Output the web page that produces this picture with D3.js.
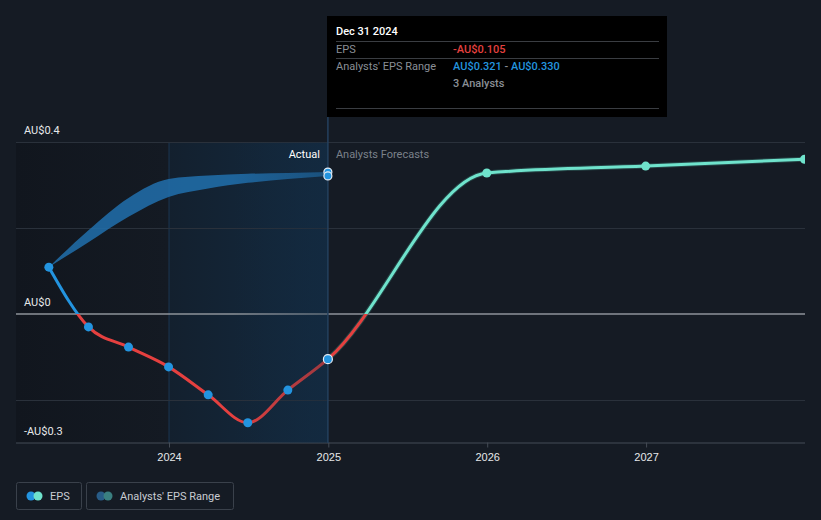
<!DOCTYPE html>
<html><head><meta charset="utf-8">
<script src="https://cdn.jsdelivr.net/npm/d3@7/dist/d3.min.js"></script>
<style>html,body{margin:0;padding:0;background:#151b24;}svg{display:block;font-family:Roboto,"Noto Sans",sans-serif;}</style>
</head><body>
<svg id="c" width="821" height="520"></svg>
<script>
// ---- data ----
const epsDates = ["2023-03-31","2023-06-30","2023-09-30","2023-12-31","2024-03-31","2024-06-30","2024-09-30","2024-12-31"];
const epsValues = [0.109,-0.030,-0.077,-0.123,-0.188,-0.253,-0.177,-0.105];
const forecastDates = ["2024-12-31","2025-12-31","2026-12-31","2027-12-31"];
const forecastValues = [-0.105,0.328,0.344,0.360];
const rangeDates = ["2023-03-31","2023-06-30","2023-09-30","2023-12-31","2024-03-31","2024-06-30","2024-09-30","2024-12-31"];
const rangeLow  = [0.109,0.167,0.226,0.272,0.292,0.305,0.314,0.321];
const rangeHigh = [0.109,0.195,0.270,0.314,0.322,0.326,0.328,0.330];
const xTickYears = [2024,2025,2026,2027];
const yTickValues = [0.4,0,-0.3];
const yTickLabels = ["AU$0.4","AU$0","-AU$0.3"];
const yGridValues = [0.4,0.2,-0.2];

const parse = d3.timeParse("%Y-%m-%d");
const svg = d3.select("#c");
const L = 16, R = 805, T = 142, B = 443;
const x = d3.scaleTime().domain([new Date(2024,0,1), new Date(2028,0,1)]).range([169, 805]);
const y = d3.scaleLinear().domain([-0.3, 0.4]).range([B, T]);

const defs = svg.append("defs");
const lg = defs.append("linearGradient").attr("id","leftg").attr("x1",0).attr("x2",1).attr("y1",0).attr("y2",0);
lg.append("stop").attr("offset",0).attr("stop-color","#11161e");
lg.append("stop").attr("offset",1).attr("stop-color","#141a23");
const hg = defs.append("linearGradient").attr("id","hig").attr("x1",0).attr("x2",1).attr("y1",0).attr("y2",0);
hg.append("stop").attr("offset",0).attr("stop-color","#13202e");
hg.append("stop").attr("offset",1).attr("stop-color","#132a40");

const xNow = x(parse("2024-12-31"));
const x2024 = x(new Date(2024,0,1));
svg.append("rect").attr("x",L).attr("y",T).attr("width",x2024-L).attr("height",B-T).attr("fill","url(#leftg)");
svg.append("rect").attr("x",x2024).attr("y",T).attr("width",xNow-x2024).attr("height",B-T).attr("fill","url(#hig)");
svg.append("line").attr("x1",x2024).attr("x2",x2024).attr("y1",T).attr("y2",B).attr("stroke","#1b3550").attr("stroke-width",1);

// grid
svg.selectAll(".grid").data(yGridValues).join("line")
  .attr("x1",L).attr("x2",R).attr("y1",d=>Math.round(y(d))+0.5).attr("y2",d=>Math.round(y(d))+0.5)
  .attr("stroke","#2a313b").attr("stroke-width",1);

// x axis
const xAxis = d3.axisBottom(x).tickValues(xTickYears.map(v=>new Date(v,0,1))).tickFormat(d3.timeFormat("%Y")).tickSize(5).tickSizeOuter(0);
const gx = svg.append("g").attr("transform",`translate(0,${B-0.5})`).call(xAxis);
gx.select(".domain").attr("d",`M${L},0.5H${R}`).attr("stroke","#454c56");
gx.selectAll(".tick line").attr("stroke","#454c56");
gx.selectAll(".tick text").attr("fill","#e6e8ea").attr("font-size",11).attr("dy","0.95em");

// zero line
svg.append("line").attr("x1",L).attr("x2",R).attr("y1",y(0)).attr("y2",y(0)).attr("stroke","#8e939a").attr("stroke-width",1.5);

// y labels
svg.selectAll(".ylab").data(yTickValues).join("text")
  .attr("x",24).attr("y",d=>y(d)-8).attr("fill","#e6e8ea").attr("font-size",11)
  .text((d,i)=>yTickLabels[i]);

// band
const band = rangeDates.map((d,i)=>({d:parse(d),lo:rangeLow[i],hi:rangeHigh[i]}));
svg.append("path").datum(band)
  .attr("d",d3.area().x(d=>x(d.d)).y0(d=>y(d.lo)).y1(d=>y(d.hi)).curve(d3.curveMonotoneX))
  .attr("fill","#2170ad").attr("fill-opacity",0.85);

// lines
const all = epsDates.map((d,i)=>({d:parse(d),v:epsValues[i]}))
  .concat(forecastDates.slice(1).map((d,i)=>({d:parse(d),v:forecastValues[i+1]})));
const lineGen = d3.line().x(d=>x(d.d)).y(d=>y(d.v)).curve(d3.curveMonotoneX);
const z = y(0);
function grad(id, pos){
  const g = defs.append("linearGradient").attr("id",id).attr("gradientUnits","userSpaceOnUse")
    .attr("x1",0).attr("x2",0).attr("y1",T).attr("y2",B);
  const f = (z-T)/(B-T);
  g.append("stop").attr("offset",f).attr("stop-color",pos);
  g.append("stop").attr("offset",f).attr("stop-color","#e5403f");
}
grad("ga","#2394df"); grad("gf","#6fe3cc");
defs.append("clipPath").attr("id","ca").append("rect").attr("x",0).attr("y",0).attr("width",xNow).attr("height",520);
defs.append("clipPath").attr("id","cf").append("rect").attr("x",xNow).attr("y",0).attr("width",R-xNow).attr("height",520);
defs.append("clipPath").attr("id","cp").append("rect").attr("x",0).attr("y",0).attr("width",R).attr("height",520);

const fc = forecastDates.map((d,i)=>({d:parse(d),v:forecastValues[i]}));
svg.append("path").datum(all).attr("clip-path","url(#cf)").attr("d",lineGen)
  .attr("fill","none").attr("stroke","#2f5f5c").attr("stroke-width",5).attr("stroke-opacity",0.6);

svg.append("path").datum(all).attr("clip-path","url(#ca)").attr("d",lineGen)
  .attr("fill","none").attr("stroke","url(#ga)").attr("stroke-width",3);
svg.append("path").datum(all).attr("clip-path","url(#cf)").attr("d",lineGen)
  .attr("fill","none").attr("stroke","url(#gf)").attr("stroke-width",3);

// highlight overlay tint over line in recent area
const og = defs.append("linearGradient").attr("id","og").attr("x1",0).attr("x2",1).attr("y1",0).attr("y2",0);
og.append("stop").attr("offset",0.4).attr("stop-color","#132a40").attr("stop-opacity",0);
og.append("stop").attr("offset",1).attr("stop-color","#132a40").attr("stop-opacity",0.35);
svg.append("rect").attr("x",x2024).attr("y",T).attr("width",xNow-x2024).attr("height",B-T).attr("fill","url(#og)");

// vertical marker line
svg.append("line").attr("x1",xNow).attr("x2",xNow).attr("y1",117).attr("y2",B).attr("stroke","#24415e").attr("stroke-width",1.5);

// dots
svg.selectAll(".ad").data(all.slice(0,epsDates.length)).join("circle")
  .attr("cx",d=>x(d.d)).attr("cy",d=>y(d.v)).attr("r",4.5).attr("fill","#2394df")
  .attr("stroke",(d,i)=>i===epsDates.length-1?"#e8eef5":"none").attr("stroke-width",1.2);
svg.append("g").attr("clip-path","url(#cp)").selectAll(".fd").data(fc.slice(1)).join("circle")
  .attr("cx",d=>x(d.d)).attr("cy",d=>y(d.v)).attr("r",4.5).attr("fill","#6fe3cc");
const lastBand = band[band.length-1];
svg.selectAll(".bd").data([lastBand.hi,lastBand.lo]).join("circle")
  .attr("cx",x(lastBand.d)).attr("cy",d=>y(d)).attr("r",4).attr("fill","#2394df")
  .attr("stroke","#e8eef5").attr("stroke-width",1.2);

// Actual / forecast labels
svg.append("text").attr("x",xNow-8).attr("y",158).attr("text-anchor","end").attr("fill","#ffffff").attr("font-size",11).text("Actual");
svg.append("text").attr("x",xNow+8).attr("y",158).attr("fill","#7b818a").attr("font-size",11).text("Analysts Forecasts");

// tooltip
const tt = svg.append("g");
tt.append("rect").attr("x",327).attr("y",16).attr("width",340).attr("height",101).attr("fill","#000");
[41.5,58.5,108.5].forEach(v=>tt.append("line").attr("x1",336).attr("x2",659).attr("y1",v).attr("y2",v).attr("stroke","#3a3d42"));
tt.append("text").attr("x",336).attr("y",35).attr("fill","#fff").attr("font-size",11).attr("font-weight",500).text("Dec 31 2024");
tt.append("text").attr("x",336).attr("y",53).attr("fill","#8a8f96").attr("font-size",11).text("EPS");
tt.append("text").attr("x",453).attr("y",53).attr("fill","#e5403f").attr("font-size",11).attr("font-weight",500).text("-AU$0.105");
tt.append("text").attr("x",336).attr("y",70).attr("fill","#8a8f96").attr("font-size",11).text("Analysts' EPS Range");
const rt = tt.append("text").attr("x",453).attr("y",70).attr("font-size",11).attr("font-weight",500);
rt.append("tspan").attr("fill","#2394df").text("AU$0.321");
rt.append("tspan").attr("fill","#8a8f96").text(" - ");
rt.append("tspan").attr("fill","#2394df").text("AU$0.330");
tt.append("text").attr("x",453).attr("y",87).attr("fill","#8a8f96").attr("font-size",11).attr("font-weight",500).text("3 Analysts");

// legend
const lgd = svg.append("g");
lgd.append("rect").attr("x",16.5).attr("y",482.5).attr("width",65).attr("height",27).attr("rx",2).attr("fill","none").attr("stroke","#3a414b");
lgd.append("circle").attr("cx",31).attr("cy",496).attr("r",4.5).attr("fill","#2394df");
lgd.append("circle").attr("cx",38).attr("cy",496).attr("r",4.5).attr("fill","#6fe3cc");
lgd.append("text").attr("x",50).attr("y",500).attr("fill","#c8ccd2").attr("font-size",11).text("EPS");
lgd.append("rect").attr("x",86.5).attr("y",482.5).attr("width",147).attr("height",27).attr("rx",2).attr("fill","none").attr("stroke","#3a414b");
lgd.append("circle").attr("cx",101).attr("cy",496).attr("r",4.5).attr("fill","#285c87");
lgd.append("circle").attr("cx",108).attr("cy",496).attr("r",4.5).attr("fill","#3a7f80");
lgd.append("text").attr("x",120).attr("y",500).attr("fill","#c8ccd2").attr("font-size",11).text("Analysts' EPS Range");
</script>
</body></html>
